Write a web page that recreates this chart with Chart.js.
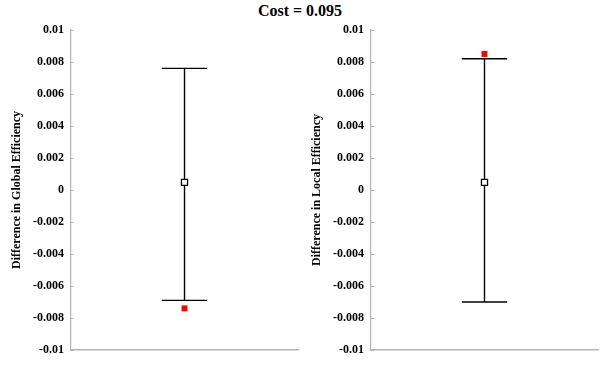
<!DOCTYPE html>
<html>
<head>
<meta charset="utf-8">
<script src="https://cdn.jsdelivr.net/npm/chart.js@4.4.0/dist/chart.umd.min.js"></script>
<style>
    body { margin: 0; background: #fff; }
    #wrap { position: relative; width: 600px; height: 367px; }
    #title {
        position: absolute; top: 1px; left: 0; width: 600px;
        text-align: center; font: bold 16px 'Liberation Serif', serif;
        line-height: 20px; color: #000;
    }
    .panel { position: absolute; top: 0; width: 300px; height: 367px; }
</style>
</head>
<body>
<div id="wrap">
    <div id="title">Cost = 0.095</div>
    <div class="panel" style="left:0"><canvas id="c0"></canvas></div>
    <div class="panel" style="left:300px"><canvas id="c1"></canvas></div>
</div>
<script>
    // One panel per efficiency measure
    const measures = ['Global Efficiency', 'Local Efficiency'];
    const meanDiff = [0.00048, 0.00048];
    const ciLower = [-0.0069, -0.0070];
    const ciUpper = [0.0076, 0.0082];
    const observed = [-0.0074, 0.0085];
    const yTicks = [0.01, 0.008, 0.006, 0.004, 0.002, 0, -0.002, -0.004, -0.006, -0.008, -0.01];

    const AXIS_GREY = '#b4b4b4';
    const FONT = "'Liberation Serif', 'Times New Roman', serif";

    function formatTick(v) {
        return String(Number(v.toFixed(3)));
    }

    // Small tick marks drawn inside the plot, like the original figure
    const innerTicks = {
        id: 'innerTicks',
        afterDraw(chart) {
            const ctx = chart.ctx;
            const y = chart.scales.y;
            const left = chart.chartArea.left;
            ctx.save();
            ctx.strokeStyle = AXIS_GREY;
            ctx.lineWidth = 1;
            y.ticks.forEach(t => {
                const py = Math.round(y.getPixelForValue(t.value)) + 0.5;
                ctx.beginPath();
                ctx.moveTo(left, py);
                ctx.lineTo(left + 3, py);
                ctx.stroke();
            });
            ctx.restore();
        }
    };

    function segment(x0, y0, x1, y1) {
        return {
            data: [{ x: x0, y: y0 }, { x: x1, y: y1 }],
            showLine: true,
            borderColor: '#000',
            borderWidth: 1.4,
            pointRadius: 0,
            order: 3
        };
    }

    function render(canvas, i) {
        const datasets = [
            segment(1, ciLower[i], 1, ciUpper[i]),
            segment(0.8, ciUpper[i], 1.2, ciUpper[i]),
            segment(0.8, ciLower[i], 1.2, ciLower[i]),
            {
                data: [{ x: 1, y: meanDiff[i] }],
                pointStyle: 'rect',
                pointRadius: 4.3,
                backgroundColor: '#fff',
                borderColor: '#000',
                borderWidth: 1.3,
                order: 2
            },
            {
                data: [{ x: 1, y: observed[i] }],
                pointStyle: 'rect',
                pointRadius: 4.2,
                backgroundColor: '#ff0000',
                borderColor: '#ff0000',
                borderWidth: 0,
                order: 1
            }
        ];

        return new Chart(canvas.getContext('2d'), {
            type: 'scatter',
            data: { datasets: datasets },
            options: {
                responsive: true,
                maintainAspectRatio: false,
                animation: false,
                events: [],
                layout: {
                    autoPadding: false,
                    padding: { top: 30, bottom: 17, left: 0, right: 2 }
                },
                plugins: {
                    legend: { display: false },
                    tooltip: { enabled: false }
                },
                scales: {
                    x: {
                        type: 'linear',
                        min: 0,
                        max: 2,
                        ticks: { display: false },
                        grid: { display: false, drawTicks: false },
                        border: { display: true, color: AXIS_GREY, width: 1.5 },
                        afterFit: s => { s.height = 0; }
                    },
                    y: {
                        min: -0.01,
                        max: 0.01,
                        afterBuildTicks: s => { s.ticks = yTicks.map(v => ({ value: v })); },
                        ticks: {
                            color: '#000',
                            padding: 7,
                            font: { family: FONT, size: 12, weight: 'bold' },
                            callback: v => formatTick(v)
                        },
                        grid: { display: false, drawTicks: false },
                        border: { display: true, color: AXIS_GREY, width: 1.2 },
                        title: {
                            display: true,
                            text: 'Difference in ' + measures[i],
                            color: '#000',
                            font: { family: FONT, size: 12, weight: 'bold' },
                            padding: { top: 10, bottom: 0 }
                        },
                        afterFit: s => { s.width = 71; }
                    }
                }
            },
            plugins: [innerTicks]
        });
    }

    measures.forEach((m, i) => render(document.getElementById('c' + i), i));
</script>
</body>
</html>
